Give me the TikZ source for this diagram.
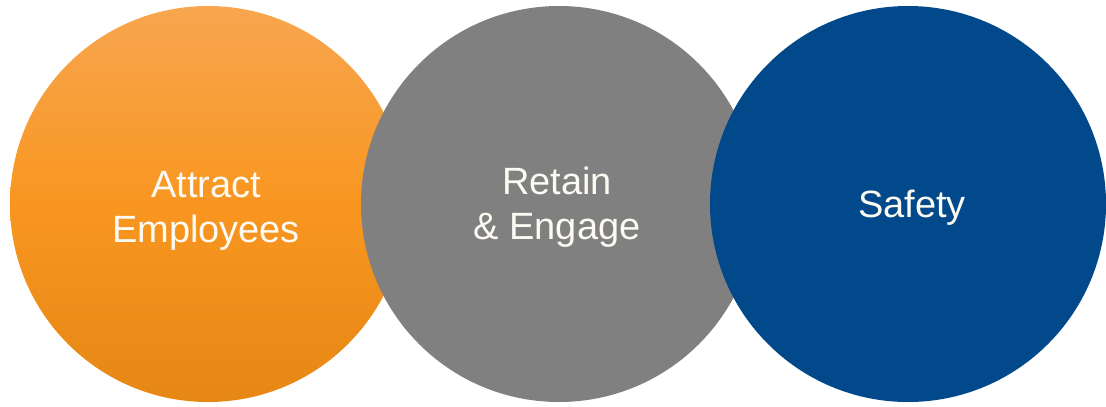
\documentclass[tikz,border=0pt]{standalone}
\usepackage{fontspec}
\setmainfont{Liberation Sans}
\definecolor{orangetop}{RGB}{248,166,80}
\definecolor{orangemid}{RGB}{248,150,32}
\definecolor{orangebot}{RGB}{230,135,20}
\definecolor{midgray}{RGB}{128,128,128}
\definecolor{navy}{RGB}{2,73,140}
\definecolor{labeltext}{RGB}{252,250,242}
\tikzset{
  bubble/.style={circle, minimum size=396pt, inner sep=0pt, draw=none},
  bubbletext/.style={text=labeltext, align=center, font=\fontsize{38}{45}\selectfont}
}
\begin{document}
\begin{tikzpicture}[x=1pt,y=-1pt]
\useasboundingbox (0,0) rectangle (1106,407);
\fill[white] (0,0) rectangle (1106,407);
\node[bubble, top color=orangetop, bottom color=orangebot, middle color=orangemid] (attract) at (208,204) {};
\node[bubble, fill=midgray] (retain) at (559,204) {};
\node[bubble, fill=navy] (safety) at (908,204) {};
\node[bubbletext] (attractlbl) at (206,211) {Attract\\Employees};
\node[bubbletext] (retainlbl) at (557,207) {Retain\\\& Engage};
\node[bubbletext] (safetylbl) at (912,208) {Safety};
\end{tikzpicture}
\end{document}
